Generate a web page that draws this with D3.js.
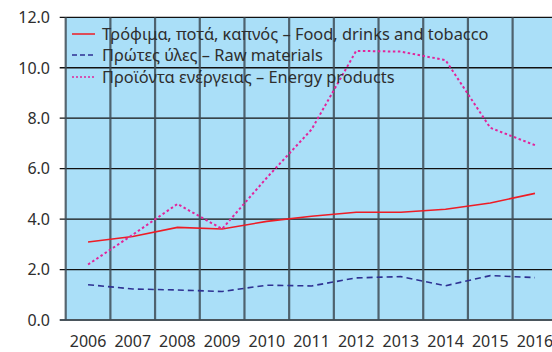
<!DOCTYPE html>
<html><head><meta charset="utf-8">
<script src="https://cdn.jsdelivr.net/npm/d3@7"></script>
<style>
html,body{margin:0;padding:0;background:#fff;overflow:hidden}
text{font-family:"Noto Sans","Open Sans",sans-serif;fill:#2e2e2e}
</style></head>
<body><svg id="c" width="552" height="352"></svg>
<script>
const years = ["2006","2007","2008","2009","2010","2011","2012","2013","2014","2015","2016"];
const food = [3.09,3.31,3.67,3.61,3.91,4.11,4.27,4.27,4.39,4.64,5.02];
const raw = [1.40,1.23,1.19,1.13,1.38,1.35,1.67,1.72,1.36,1.76,1.68];
const energy = [2.20,3.38,4.60,3.61,5.64,7.55,10.67,10.64,10.30,7.62,6.93];
const yTicks = [0,2,4,6,8,10,12];
const seriesNames = ["Τρόφιμα, ποτά, καπνός – Food, drinks and tobacco","Πρώτες ύλες – Raw materials","Προϊόντα ενέργειας – Energy products"];

const svg = d3.select("#c");
const L = 65.7, R = 557.3, T = 17.3, B = 320;
const x = d3.scaleBand().domain(years).range([L, R]);
const y = d3.scaleLinear().domain([0, 12]).range([B, T]);

svg.append("rect").attr("x", L).attr("y", T).attr("width", R - L).attr("height", B - T).attr("fill", "#aadff8");

// horizontal grid
svg.append("g").selectAll("line").data(yTicks).join("line")
  .attr("x1", L - 6).attr("x2", R).attr("y1", d => y(d)).attr("y2", d => y(d))
  .attr("stroke", d => d === 0 ? "#4a555c" : "#111").attr("stroke-width", d => d === 0 ? 2.2 : 1.3);

// vertical grid (band boundaries)
const bounds = years.map(d => x(d)).concat([R]);
svg.append("g").selectAll("line").data(bounds).join("line")
  .attr("x1", d => d).attr("x2", d => d).attr("y1", T).attr("y2", B)
  .attr("stroke", "#3e4c56").attr("stroke-width", 2.2).attr("stroke-opacity", 0.85);

// y axis labels
svg.append("g").selectAll("text").data(yTicks).join("text")
  .attr("x", 50).attr("y", d => y(d)).attr("dy", "0.36em").attr("text-anchor", "end")
  .attr("font-size", 16).text(d => d.toFixed(1));

// x axis labels
svg.append("g").selectAll("text").data(years).join("text")
  .attr("x", d => x(d) + x.bandwidth() / 2).attr("y", 347).attr("text-anchor", "middle")
  .attr("font-size", 16).text(d => d);

const line = d3.line().x((d, i) => x(years[i]) + x.bandwidth() / 2).y(d => y(d));
const styles = [
  {data: food, color: "#ee1c25", dash: null, w: 1.6},
  {data: raw, color: "#2e3192", dash: "6,4", w: 1.6},
  {data: energy, color: "#e2249b", dash: "2.5,2.5", w: 2}
];
styles.forEach(s => {
  svg.append("path").attr("d", line(s.data)).attr("fill", "none")
    .attr("stroke", s.color).attr("stroke-width", s.w)
    .attr("stroke-dasharray", s.dash);
});

// legend
const lg = svg.append("g");
const rowY = [34, 55, 77];
seriesNames.forEach((n, i) => {
  lg.append("line").attr("x1", 72).attr("x2", 95).attr("y1", rowY[i]).attr("y2", rowY[i])
    .attr("stroke", styles[i].color).attr("stroke-width", 1.5).attr("stroke-dasharray", styles[i].dash ? (i === 1 ? "5,3" : "2,2") : null);
  lg.append("text").attr("x", 102).attr("y", rowY[i]).attr("dy", "0.36em")
    .attr("font-size", 16.4).text(n);
});
</script></body></html>
